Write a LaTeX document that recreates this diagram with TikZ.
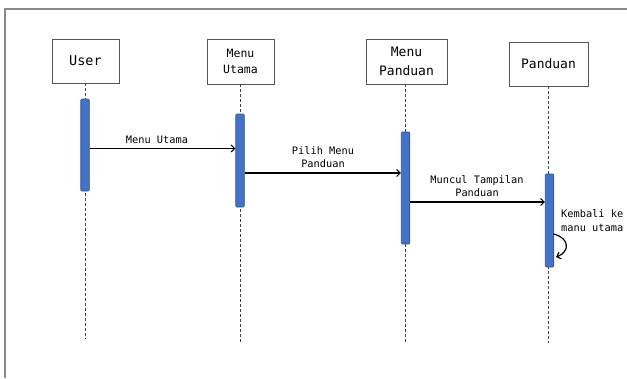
\documentclass[tikz,border=0pt]{standalone}
\usepackage{fontspec}
\setmonofont{DejaVu Sans Mono}
\usetikzlibrary{arrows.meta}
\definecolor{barblue}{HTML}{4472C4}
\definecolor{barborder}{HTML}{2F528F}
\definecolor{boxline}{HTML}{555555}
\definecolor{frameline}{HTML}{8A8A8A}
\definecolor{lifegray}{HTML}{444444}
\tikzset{
  actor/.style={draw=boxline, line width=0.9pt, fill=white, inner sep=0pt, align=center, font=\ttfamily},
  actbar/.style={draw=barborder, fill=barblue, line width=0.6pt, rounded corners=1pt, minimum width=8.5pt, inner sep=0pt},
  lifeline/.style={draw=lifegray, line width=0.7pt, dash pattern=on 3pt off 2pt},
  msg/.style={draw=black, line width=1.2pt, -{Straight Barb[length=3.5pt,width=7pt]}},
  msglabel/.style={font=\ttfamily\fontsize{10.3}{13.5}\selectfont, align=center, inner sep=0pt}
}
\begin{document}
\begin{tikzpicture}[x=1pt,y=-1pt]
\useasboundingbox (0,0) rectangle (627,378);
% frame
\draw[frameline, line width=1.6pt] (5,378) -- (5,9) -- (627,9);
% actor boxes
\node[actor, minimum width=67pt, minimum height=44pt, font=\ttfamily\fontsize{13.5}{16}\selectfont] (user) at (85.5,61) {User};
\node[actor, minimum width=67pt, minimum height=45pt, font=\ttfamily\fontsize{11.5}{16}\selectfont] (mu) at (240.5,61.5) {Menu\\Utama};
\node[actor, minimum width=81pt, minimum height=45pt, font=\ttfamily\fontsize{13}{19}\selectfont] (mp) at (406.5,61.5) {Menu\\Panduan};
\node[actor, minimum width=79pt, minimum height=44pt, font=\ttfamily\fontsize{13}{16}\selectfont] (pd) at (548.5,64) {Panduan};
% lifeline ends
\coordinate (userend) at (85,339);
\coordinate (muend) at (240,343);
\coordinate (mpend) at (405,343);
\coordinate (pdend) at (548,343);
\draw[lifeline] (user.south -| userend) -- (userend);
\draw[lifeline] (mu.south -| muend) -- (muend);
\draw[lifeline] (mp.south -| mpend) -- (mpend);
\draw[lifeline] (pd.south -| pdend) -- (pdend);
% activation bars
\node[actbar, minimum height=92pt] (ubar) at (85,145) {};
\node[actbar, minimum height=93pt] (mubar) at (240,160.5) {};
\node[actbar, minimum height=112pt] (mpbar) at (405.5,188) {};
\node[actbar, minimum height=93pt] (pdbar) at (549.5,220.5) {};
% message heights
\coordinate (m1) at (0,148.5);
\coordinate (m2) at (0,173);
\coordinate (m3) at (0,202);
\coordinate (m4a) at (0,234);
\coordinate (m4b) at (0,257);
\draw[msg] (ubar.east |- m1) -- (mubar.west |- m1);
\node[msglabel] (l1) at (157,140) {Menu Utama};
\draw[msg] (mubar.east |- m2) -- (mpbar.west |- m2);
\node[msglabel] (l2) at (323,157) {Pilih Menu\\Panduan};
\draw[msg] (mpbar.east |- m3) -- (pdbar.west |- m3);
\node[msglabel] (l3) at (477,186) {Muncul Tampilan\\Panduan};
\draw[msg] ([xshift=-0.5pt]pdbar.east |- m4a) .. controls (570,238) and (570,252) .. ([xshift=2pt]pdbar.east |- m4b);
\node[msglabel, align=left, anchor=west] (l4) at (561,220.5) {Kembali ke\\manu utama};
\end{tikzpicture}
\end{document}
